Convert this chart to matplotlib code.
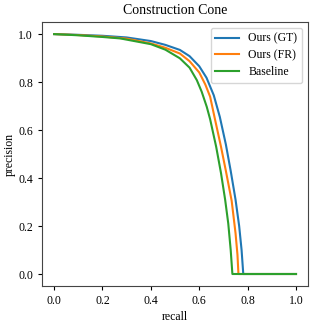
import matplotlib
matplotlib.use("Agg")
import matplotlib.pyplot as plt

plt.rcParams['font.family'] = ['Liberation Serif', 'DejaVu Serif']

# precision-recall curves
gt_recall = [0.0, 0.1, 0.2, 0.3, 0.4, 0.46, 0.52, 0.56, 0.60, 0.63, 0.66, 0.685,
             0.71, 0.73, 0.75, 0.765, 0.775, 0.782, 1.0]
gt_precision = [1.0, 0.997, 0.993, 0.986, 0.971, 0.955, 0.934, 0.908, 0.866, 0.818,
                0.745, 0.655, 0.54, 0.43, 0.31, 0.20, 0.10, 0.0, 0.0]

fr_recall = [0.0, 0.1, 0.2, 0.3, 0.4, 0.46, 0.52, 0.56, 0.60, 0.625, 0.645, 0.665,
             0.69, 0.71, 0.734, 0.75, 0.758, 0.762, 1.0]
fr_precision = [1.0, 0.996, 0.99, 0.981, 0.961, 0.943, 0.919, 0.887, 0.84, 0.79,
                0.739, 0.645, 0.53, 0.43, 0.305, 0.17, 0.08, 0.0, 0.0]

base_recall = [0.0, 0.1, 0.2, 0.273, 0.4, 0.46, 0.52, 0.56, 0.59, 0.61, 0.631, 0.645,
               0.67, 0.69, 0.707, 0.72, 0.73, 0.737, 1.0]
base_precision = [1.0, 0.995, 0.988, 0.982, 0.958, 0.935, 0.899, 0.86, 0.808, 0.76,
                  0.697, 0.645, 0.53, 0.42, 0.31, 0.21, 0.10, 0.0, 0.0]

fig = plt.figure(figsize=(3.16, 3.25), dpi=100)
ax = fig.add_axes([0.133, 0.12, 0.842, 0.812])

ax.plot(gt_recall, gt_precision, label='Ours (GT)')
ax.plot(fr_recall, fr_precision, label='Ours (FR)')
ax.plot(base_recall, base_precision, label='Baseline')

ax.set_title('Construction Cone', fontsize=10)
ax.set_xlabel('recall', fontsize=8.5, labelpad=3)
ax.set_ylabel('precision', fontsize=8.5, labelpad=2)
ax.set_xticks([0.0, 0.2, 0.4, 0.6, 0.8, 1.0])
ax.set_yticks([0.0, 0.2, 0.4, 0.6, 0.8, 1.0])
ax.tick_params(labelsize=8.5, length=3)
for s in ax.spines.values():
    s.set_color('#444444')
ax.legend(loc='upper right', fontsize=8.5, labelspacing=0.4)

fig.savefig('out.png', dpi=100)
